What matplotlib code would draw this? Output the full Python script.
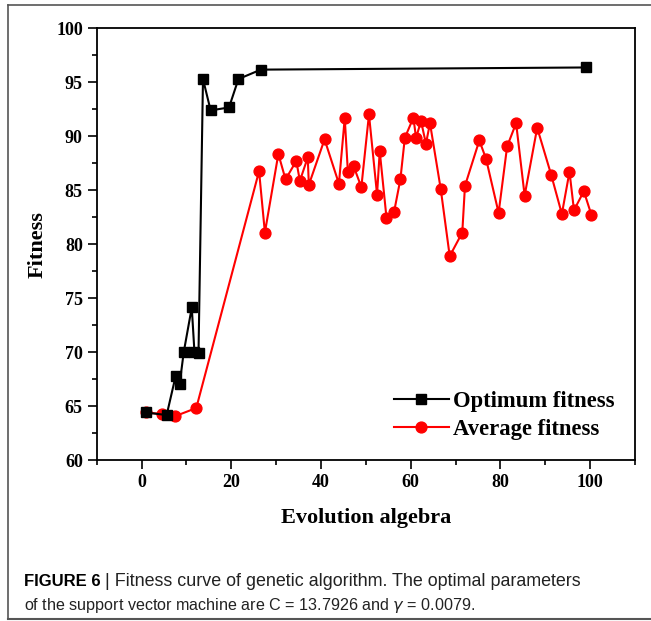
import numpy as np
import matplotlib
matplotlib.use('Agg')
import matplotlib.pyplot as plt
from matplotlib.ticker import MultipleLocator
from matplotlib.lines import Line2D

# 最优适应度
opt_x = [0.9, 5.6, 7.6, 8.5, 9.4, 11.2, 11.8, 12.7, 13.7, 15.4, 19.5, 21.6, 26.6, 99.1]
opt_y = [64.44, 64.2, 67.8, 67.07, 70.0, 74.15, 70.0, 69.97, 95.28, 92.38, 92.65, 95.28, 96.15, 96.35]

# 平均适应度
avg_x = [0.9, 4.6, 7.5, 12.2, 26.2, 27.5, 30.5, 32.1, 34.5, 35.3, 37.05, 37.3, 40.8, 44.0,
         45.3, 46.0, 47.3, 49.0, 50.7, 52.5, 53.1, 54.6, 56.3, 57.7, 58.7, 60.6, 61.2, 62.3,
         63.4, 64.3, 66.7, 68.7, 71.5, 72.1, 75.3, 76.8, 79.6, 81.5, 83.5, 85.4, 88.2, 91.3,
         93.7, 95.4, 96.4, 98.6, 100.3]
avg_y = [64.44, 64.3, 64.1, 64.85, 86.76, 81.08, 88.35, 86.0, 87.7, 85.86, 88.03, 85.5, 89.7, 85.6,
         91.67, 86.67, 87.2, 85.28, 92.0, 84.6, 88.6, 82.47, 83.0, 86.0, 89.85, 91.7, 89.85, 91.39,
         89.3, 91.2, 85.1, 78.9, 81.08, 85.4, 89.6, 87.9, 82.9, 89.05, 91.2, 84.5, 90.77, 86.45,
         82.8, 86.7, 83.15, 84.9, 82.7]

xticks = [0, 20, 40, 60, 80, 100]
yticks = [60, 65, 70, 75, 80, 85, 90, 95, 100]

cap_head = 'FIGURE 6'
cap_line1 = '| Fitness curve of genetic algorithm. The optimal parameters'
cap_line2 = r'of the support vector machine are C = 13.7926 and $\gamma$ = 0.0079.'

serif = 'Liberation Serif'
sans = 'Liberation Sans'
narrow = ['Liberation Sans Narrow', 'Liberation Sans']

fig = plt.figure(figsize=(6.51, 6.21), dpi=100)
ax = fig.add_axes([0.1485, 0.2585, 0.8269, 0.6964])

ax.plot(opt_x, opt_y, '-s', color='black', lw=1.5, ms=6.8, label='Optimum fitness', zorder=3)
ax.plot(avg_x, avg_y, '-o', color='red', lw=1.5, ms=7.8, label='Average fitness', zorder=2)

ax.set_xlim(-10, 110)
ax.set_ylim(60, 100)
ax.set_xticks(xticks)
ax.set_yticks(yticks)
ax.xaxis.set_minor_locator(MultipleLocator(10))
ax.yaxis.set_minor_locator(MultipleLocator(2.5))
ax.tick_params(which='major', direction='out', length=6.5, width=1.2)
ax.tick_params(which='minor', direction='out', length=3.5, width=1.2)
for sp in ax.spines.values():
    sp.set_linewidth(1.3)
for lab in ax.get_xticklabels() + ax.get_yticklabels():
    lab.set_fontfamily(serif)
    lab.set_fontweight('bold')
    lab.set_fontsize(13)

ax.set_xlabel('Evolution algebra', fontfamily=serif, fontweight='bold', fontsize=16, labelpad=12)
ax.set_ylabel('Fitness', fontfamily=serif, fontweight='bold', fontsize=16, labelpad=6)

leg = ax.legend(loc='lower right', frameon=False, prop={'family': serif, 'weight': 'bold', 'size': 16.3},
                handlelength=2.4, handletextpad=0.2, labelspacing=0.3, borderaxespad=0.5)

# 外框
tf = fig.transFigure
fig.add_artist(Line2D([8/651, 8/651], [1 - 5/621, 1 - 619/621], color='#555555', lw=1.2, transform=tf))
fig.add_artist(Line2D([8/651, 1], [1 - 5/621, 1 - 5/621], color='#555555', lw=1.2, transform=tf))
fig.add_artist(Line2D([8/651, 1], [1 - 619/621, 1 - 619/621], color='#555555', lw=1.5, transform=tf))

# 图注
W, H = 651.0, 621.0
y1 = 1 - 586/H
x_left, x_right = 24.0, 581.0
r = fig.canvas.get_renderer()
t1 = fig.text(x_left/W, y1, cap_head, fontfamily=sans, fontweight='bold', fontsize=12)
x2 = x_left + t1.get_window_extent(r).width + 4
t2 = fig.text(x2/W, y1, cap_line1, fontfamily=narrow, fontsize=12, color='#222222')
w2 = t2.get_window_extent(r).width
t2.set_fontsize(12 * (x_right - x2) / w2)
fig.text(x_left/W, 1 - 610/H, cap_line2, fontfamily=sans, fontsize=11.6, color='#222222')

fig.savefig('out.png', dpi=100)
